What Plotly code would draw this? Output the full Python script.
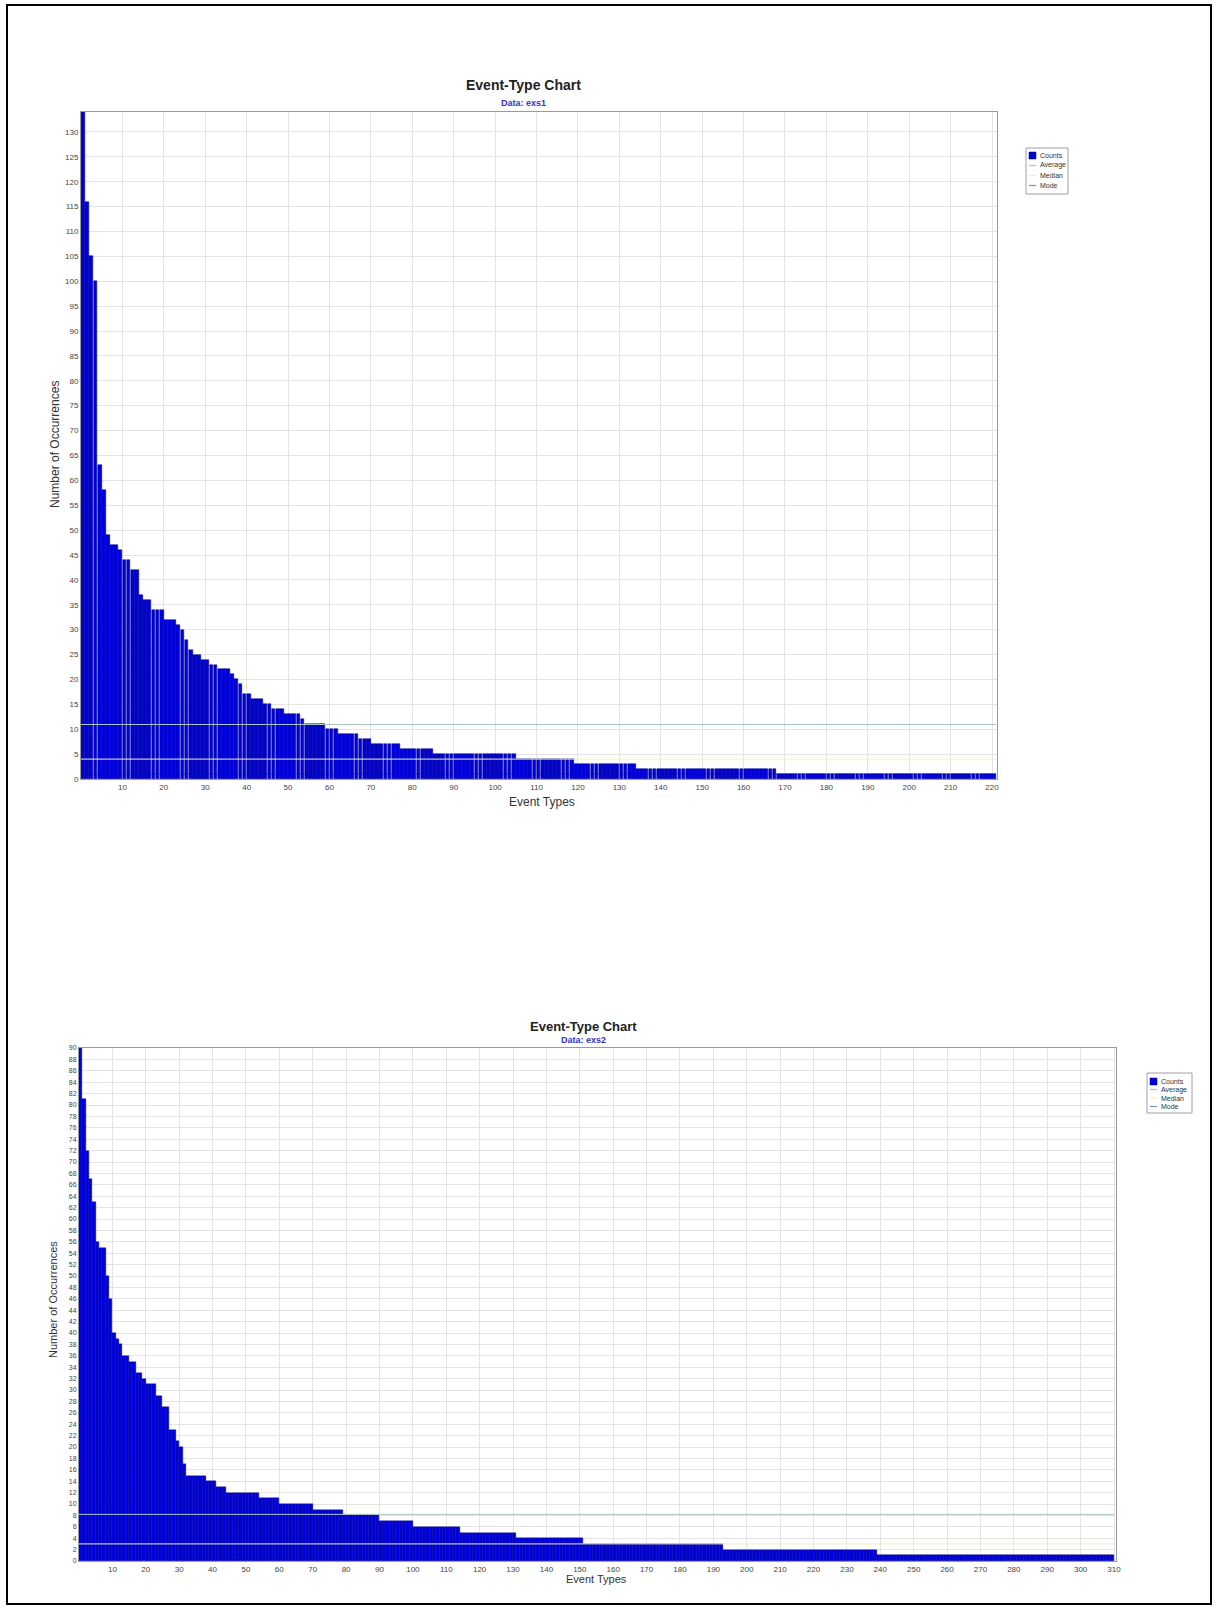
import numpy as np
import plotly.graph_objects as go

W, H = 1219, 1611

# ---------------- data ----------------
exs1_counts = [134, 116, 105, 100, 63, 58, 49, 47, 47, 46, 44, 44, 42, 42, 37, 36, 36,
               34, 34, 34, 32, 32, 32, 31, 30, 28, 26, 25, 25, 24, 24, 23, 23, 22, 22, 22,
               21, 20, 19, 17, 17, 16, 16, 16, 15, 15, 14, 14, 14, 13, 13, 13, 13, 12,
               11, 11, 11, 11, 11, 10, 10, 10, 9, 9, 9, 9, 9, 8, 8, 8,
               7, 7, 7, 7, 7, 7, 7, 6, 6, 6, 6, 6, 6, 6, 6] \
              + [5] * 20 + [4] * 14 + [3] * 15 + [2] * 34 + [1] * 53

exs2_counts = [90, 81, 72, 67, 63, 56, 55, 55, 50, 46, 40, 39, 38, 36, 36, 35, 35,
               33, 33, 32, 31, 31, 31, 29, 29, 27, 27, 23, 23, 21, 20, 17] \
              + [15] * 6 + [14] * 3 + [13] * 3 + [12] * 10 + [11] * 6 + [10] * 10 \
              + [9] * 9 + [8] * 11 + [7] * 10 + [6] * 14 + [5] * 17 + [4] * 20 \
              + [3] * 42 + [2] * 46 + [1] * 71

exs1_mode = 1
exs2_mode = 1

x1_ticks = list(range(10, 221, 10))
y1_ticks = list(range(0, 131, 5))
x2_ticks = list(range(10, 311, 10))
y2_ticks = list(range(0, 91, 2))

legend_names = ["Counts", "Average", "Median", "Mode"]

# ---------------- styling ----------------
BAR = "#0000dd"
BAR_EDGE = "#000080"
AVG_C = "#a8c4c4"
MED_C = "#f0f0b8"
MODE_C = "#8090b8"
LINE_COLORS = {"Average": AVG_C, "Median": MED_C, "Mode": MODE_C}
NARROW = "Liberation Sans Narrow, Arial Narrow, Liberation Sans, Arial, sans-serif"
SANS = "Liberation Sans, Arial, sans-serif"


def PX(x):
    return x / W


def PY(y):
    return 1 - y / H


fig = go.Figure()
shapes = []


def add_chart(counts, mode_val, xa, ya, bar_w, edge_w):
    n = len(counts)
    idx = np.arange(1, n + 1)
    c = np.array(counts)
    avg = float(np.mean(c))
    med = float(np.median(c))
    fig.add_trace(go.Bar(x=idx, y=c, width=bar_w, offset=-1 + (1 - bar_w) / 2,
                         marker=dict(color=BAR, line=dict(color=BAR_EDGE, width=edge_w)),
                         name="Counts", xaxis=xa, yaxis=ya))
    for name, val in (("Average", avg), ("Median", med)):
        fig.add_trace(go.Scatter(x=[0, n], y=[val, val], mode="lines",
                                 line=dict(color=LINE_COLORS[name], width=1), name=name,
                                 xaxis=xa, yaxis=ya))
    # mode line sits behind the bars (hidden by the level-1 bars)
    shapes.append(dict(type="line", xref=xa, yref=ya, x0=0, x1=n, y0=mode_val, y1=mode_val,
                       line=dict(color=MODE_C, width=1), layer="below"))
    return n


n1 = add_chart(exs1_counts, exs1_mode, "x", "y", 0.9, 0.5)
n2 = add_chart(exs2_counts, exs2_mode, "x2", "y2", 1.0, 0.4)

axis_common = dict(showgrid=True, gridcolor="#e4e4e4", gridwidth=1, zeroline=False,
                   showline=True, linecolor="#9a9a9a", linewidth=1, mirror=True,
                   ticks="", automargin=False, fixedrange=True,
                   tickfont=dict(family=NARROW, size=8, color="#444"))

fig.update_layout(
    width=W, height=H, autosize=False,
    margin=dict(l=0, r=0, t=0, b=0, pad=0),
    paper_bgcolor="white", plot_bgcolor="white",
    bargap=0, showlegend=False,
    xaxis=dict(domain=[PX(81), PX(997)], anchor="y", range=[0, 221.2],
               tickmode="array", tickvals=x1_ticks, **axis_common),
    yaxis=dict(domain=[PY(779), PY(112)], anchor="x", range=[0, 134],
               tickmode="array", tickvals=y1_ticks, **axis_common),
    xaxis2=dict(domain=[PX(79), PX(1116)], anchor="y2", range=[0, 310.6],
                tickmode="array", tickvals=x2_ticks, **axis_common),
    yaxis2=dict(domain=[PY(1561), PY(1048)], anchor="x2", range=[0, 90],
                tickmode="array", tickvals=y2_ticks, **axis_common),
)
fig.update_layout(yaxis2_tickfont_size=7)

annotations = [
    dict(text="<b>Event-Type Chart</b>", x=PX(523), y=PY(85),
         font=dict(family=NARROW, size=14, color="#222")),
    dict(text="<b>Data: exs1</b>", x=PX(523), y=PY(103),
         font=dict(family=NARROW, size=9, color="#3333cc")),
    dict(text="Number of Occurrences", x=PX(55), y=PY(445), textangle=-90,
         font=dict(family=SANS, size=12, color="#333")),
    dict(text="Event Types", x=PX(542), y=PY(802),
         font=dict(family=NARROW, size=12, color="#333")),
    dict(text="<b>Event-Type Chart</b>", x=PX(583), y=PY(1026),
         font=dict(family=NARROW, size=13, color="#222")),
    dict(text="<b>Data: exs2</b>", x=PX(583), y=PY(1040),
         font=dict(family=NARROW, size=9, color="#3333cc")),
    dict(text="Number of Occurrences", x=PX(53), y=PY(1300), textangle=-90,
         font=dict(family=SANS, size=11, color="#333")),
    dict(text="Event Types", x=PX(596), y=PY(1579),
         font=dict(family=NARROW, size=11, color="#333")),
]


def add_legend(x0, y0, x1, y1, row_y, sym_x0, sym_x1, text_x):
    shapes.append(dict(type="rect", xref="paper", yref="paper", layer="above",
                       x0=PX(x0), x1=PX(x1), y0=PY(y1), y1=PY(y0),
                       line=dict(color="#a0a0a0", width=1), fillcolor="white"))
    for name, ry in zip(legend_names, row_y):
        if name == "Counts":
            shapes.append(dict(type="rect", xref="paper", yref="paper", layer="above",
                               x0=PX(sym_x0), x1=PX(sym_x1),
                               y0=PY(ry + 3.5), y1=PY(ry - 3.5),
                               line=dict(color=BAR_EDGE, width=0.5), fillcolor=BAR))
        else:
            shapes.append(dict(type="line", xref="paper", yref="paper", layer="above",
                               x0=PX(sym_x0), x1=PX(sym_x1),
                               y0=PY(ry), y1=PY(ry),
                               line=dict(color=LINE_COLORS[name], width=1.2)))
        annotations.append(dict(text=name, x=PX(text_x), y=PY(ry), xanchor="left",
                                font=dict(family=NARROW, size=7, color="#333")))


add_legend(1026, 148, 1068, 194, [155.5, 165.5, 175.5, 185.5], 1029, 1036, 1038)
add_legend(1147, 1073, 1192, 1113, [1081.5, 1089.5, 1098, 1106.5], 1150, 1157, 1159)

for a in annotations:
    a.setdefault("xanchor", "center")
    a.update(xref="paper", yref="paper", showarrow=False, yanchor="middle")

shapes.append(dict(type="rect", xref="paper", yref="paper",
                   x0=PX(7), x1=PX(1211), y0=PY(1604), y1=PY(5),
                   line=dict(color="black", width=2), fillcolor="rgba(0,0,0,0)", layer="above"))
fig.update_layout(annotations=annotations, shapes=shapes)

fig.write_html("out.html", config={"displayModeBar": False})
